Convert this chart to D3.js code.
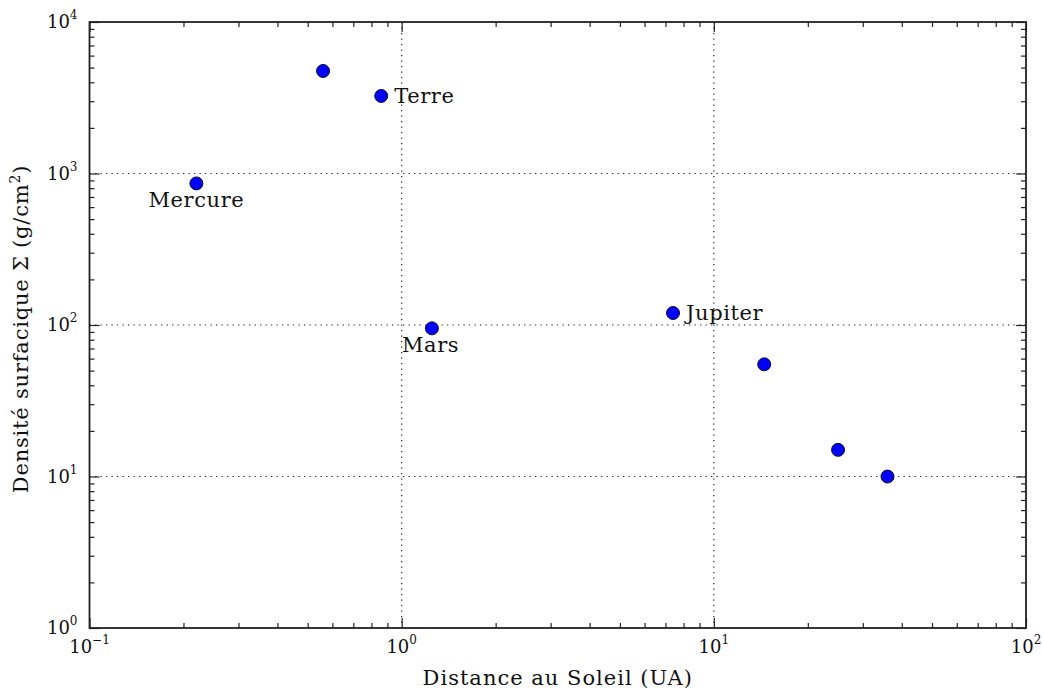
<!DOCTYPE html>
<html>
<head>
<meta charset="utf-8">
<script src="https://cdn.jsdelivr.net/npm/d3@7"></script>
<style>
  body { margin: 0; background: #fff; }
  svg { display: block; }
  text { font-family: "DejaVu Serif", "Liberation Serif", serif; fill: #111; }
</style>
</head>
<body>
<svg id="chart" width="1043" height="693"></svg>
<script>
// distances (UA) and surface densities
var distances = [0.22, 0.56, 0.86, 1.25, 7.4, 14.5, 25, 36];
var densities = [860, 4750, 3250, 95, 120, 55, 15, 10];
var names     = ["Mercure", "", "Terre", "Mars", "Jupiter", "", "", ""];
var labelPos  = ["below", "", "right", "belowRight", "right", "", "", ""];

var xMajor = [-1, 0, 1, 2];      // exponents
var yMajor = [0, 1, 2, 3, 4];

var svg = d3.select("#chart"),
    margin = {left: 89.5, right: 17, top: 22, bottom: 65},
    width = 1043 - margin.left - margin.right,
    height = 693 - margin.top - margin.bottom,
    g = svg.append("g").attr("transform", "translate(" + margin.left + "," + margin.top + ")");

var x = d3.scaleLog().domain([0.1, 100]).range([0, width]);
var y = d3.scaleLog().domain([1, 10000]).range([height, 0]);

function minors(lo, hi) {
  var out = [];
  for (var e = lo; e < hi; e++)
    for (var m = 2; m <= 9; m++) out.push(m * Math.pow(10, e));
  return out;
}
var xMinor = minors(-1, 2), yMinor = minors(0, 4);
var xMaj = xMajor.map(function (e) { return Math.pow(10, e); });
var yMaj = yMajor.map(function (e) { return Math.pow(10, e); });

// grid
g.append("g").selectAll("line").data(xMaj.slice(1, -1)).enter().append("line")
  .attr("x1", function (d) { return x(d); }).attr("x2", function (d) { return x(d); })
  .attr("y1", 0).attr("y2", height)
  .attr("stroke", "#222").attr("stroke-width", 1.2).attr("stroke-dasharray", "1.3,4.2");
g.append("g").selectAll("line").data(yMaj.slice(1, -1)).enter().append("line")
  .attr("y1", function (d) { return y(d); }).attr("y2", function (d) { return y(d); })
  .attr("x1", 0).attr("x2", width)
  .attr("stroke", "#222").attr("stroke-width", 1.2).attr("stroke-dasharray", "1.3,4.2");

// ticks on all four sides, pointing inward
function tickAxis(axis, tr) {
  var a = g.append("g").attr("transform", tr).call(axis);
  a.select(".domain").remove();
  a.selectAll("line").attr("stroke", "#222").attr("stroke-width", 1.2);
  a.selectAll("text").remove();
}
tickAxis(d3.axisBottom(x).tickValues(xMaj).tickSize(-10).tickFormat(""), "translate(0," + height + ")");
tickAxis(d3.axisBottom(x).tickValues(xMinor).tickSize(-5).tickFormat(""), "translate(0," + height + ")");
tickAxis(d3.axisTop(x).tickValues(xMaj).tickSize(-10).tickFormat(""), "translate(0,0)");
tickAxis(d3.axisTop(x).tickValues(xMinor).tickSize(-5).tickFormat(""), "translate(0,0)");
tickAxis(d3.axisLeft(y).tickValues(yMaj).tickSize(-10).tickFormat(""), "translate(0,0)");
tickAxis(d3.axisLeft(y).tickValues(yMinor).tickSize(-5).tickFormat(""), "translate(0,0)");
tickAxis(d3.axisRight(y).tickValues(yMaj).tickSize(-10).tickFormat(""), "translate(" + width + ",0)");
tickAxis(d3.axisRight(y).tickValues(yMinor).tickSize(-5).tickFormat(""), "translate(" + width + ",0)");

// frame
g.append("rect").attr("width", width).attr("height", height)
  .attr("fill", "none").attr("stroke", "#222").attr("stroke-width", 1.8);

// tick labels with exponents
function powLabel(sel, e) {
  sel.append("tspan").text("10");
  sel.append("tspan").attr("dy", -9).attr("font-size", 12)
    .text(e < 0 ? "\u2212" + (-e) : e);
}
xMajor.forEach(function (e) {
  var t = g.append("text").attr("x", x(Math.pow(10, e))).attr("y", height + 25)
    .attr("text-anchor", "middle").attr("font-size", 18);
  powLabel(t, e);
});
yMajor.forEach(function (e) {
  var t = g.append("text").attr("x", -12).attr("y", y(Math.pow(10, e)) + 6)
    .attr("text-anchor", "end").attr("font-size", 18);
  powLabel(t, e);
});

// axis titles
g.append("text").attr("x", x(Math.sqrt(10))).attr("y", height + 57)
  .attr("text-anchor", "middle").attr("font-size", 21).attr("letter-spacing", 1)
  .text("Distance au Soleil (UA)");
var yt = g.append("text")
  .attr("transform", "translate(" + (-62) + "," + (y(100) + 4) + ") rotate(-90)")
  .attr("text-anchor", "middle").attr("font-size", 21).attr("letter-spacing", 0.8);
yt.append("tspan").text("Densité surfacique Σ (g/cm");
yt.append("tspan").attr("dy", -8).attr("font-size", 14).text("2");
yt.append("tspan").attr("dy", 8).text(")");

// points
var pts = distances.map(function (d, i) {
  return {x: distances[i], y: densities[i], name: names[i], pos: labelPos[i]};
});
g.append("g").selectAll("circle").data(pts).enter().append("circle")
  .attr("cx", function (d) { return x(d.x); })
  .attr("cy", function (d) { return y(d.y); })
  .attr("r", 6.5)
  .attr("fill", "#0000ff").attr("stroke", "#111").attr("stroke-width", 1);

// labels
g.append("g").selectAll("text").data(pts.filter(function (d) { return d.name; })).enter().append("text")
  .attr("font-size", 21).attr("letter-spacing", 0.6)
  .attr("x", function (d) {
    var cx = x(d.x);
    if (d.pos === "right") return cx + 13;
    if (d.pos === "belowRight") return cx - 30;
    return cx;
  })
  .attr("y", function (d) {
    var cy = y(d.y);
    if (d.pos === "right") return cy + 7;
    return cy + 24;
  })
  .attr("text-anchor", function (d) { return d.pos === "below" ? "middle" : "start"; })
  .text(function (d) { return d.name; });
</script>
</body>
</html>
